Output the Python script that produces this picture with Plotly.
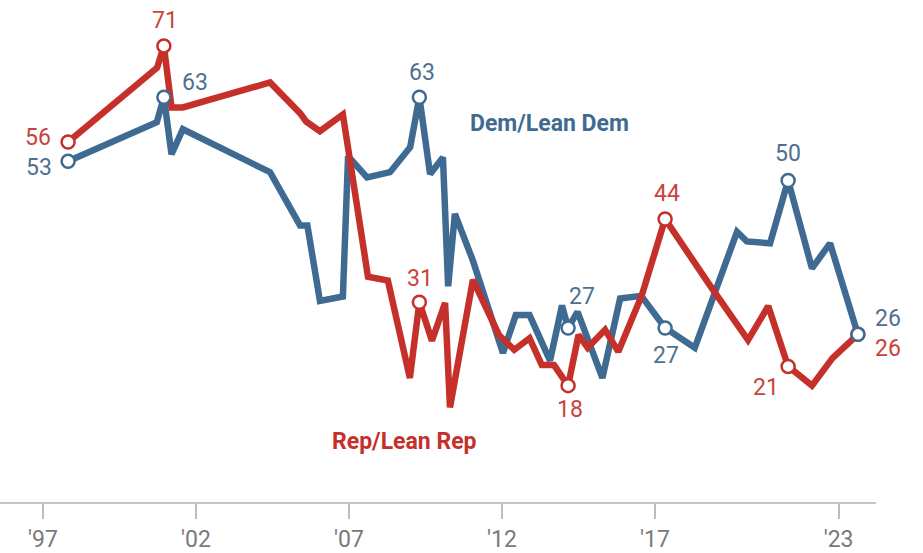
import plotly.graph_objects as go

# ---- data (decimal survey years, percent) ----
rep_years = [1997.82, 2000.73, 2000.95, 2001.2, 2001.57, 2004.42, 2005.4, 2005.6, 2006.05, 2006.8,
             2007.62, 2008.27, 2008.99, 2009.3, 2009.71, 2010.14, 2010.3, 2011.05, 2011.9, 2012.4,
             2012.9, 2013.3, 2013.7, 2014.16, 2014.5, 2014.8, 2015.37, 2015.8, 2016.57, 2017.33,
             2018.8, 2020.04, 2020.7, 2021.35, 2022.13, 2022.8, 2023.63]
rep_values = [56, 67.6, 71, 61.4, 61.4, 65.3, 60.5, 59.2, 57.7, 60.3,
              35.0, 34.4, 19.2, 31, 25.0, 30.9, 14.6, 34.5, 25.9, 23.6,
              25.4, 21.2, 21.2, 18, 25.9, 23.9, 26.7, 23.3, 32.1, 44,
              33.6, 25.1, 30.4, 21, 18.0, 22.3, 26]

dem_years = [1997.82, 2000.72, 2000.95, 2001.2, 2001.57, 2004.42, 2005.4, 2005.64, 2006.05, 2006.8,
             2006.97, 2007.59, 2008.34, 2009.0, 2009.3, 2009.65, 2010.07, 2010.24, 2010.46, 2011.05,
             2012.03, 2012.45, 2012.9, 2013.57, 2013.96, 2014.16, 2014.47, 2015.28, 2015.86, 2016.55,
             2017.33, 2018.3, 2019.68, 2020.0, 2020.76, 2021.35, 2022.13, 2022.72, 2023.63]
dem_values = [53, 59.1, 63, 54.1, 58.0, 51.3, 43.0, 43.0, 31.2, 31.9,
              53.8, 50.5, 51.3, 55.2, 63, 51.0, 53.6, 33.5, 44.8, 37.5,
              23.1, 29.0, 29.0, 21.9, 30.5, 27, 29.5, 19.2, 31.6, 32.0,
              27, 23.9, 42.0, 40.5, 40.2, 50, 36.3, 40.2, 26]

rep_label_years = [1997.82, 2000.95, 2009.3, 2014.16, 2017.33, 2021.35, 2023.63]
rep_label_values = [56, 71, 31, 18, 44, 21, 26]
dem_label_years = [1997.82, 2000.95, 2009.3, 2014.16, 2017.33, 2021.35, 2023.63]
dem_label_values = [53, 63, 63, 27, 27, 50, 26]

tick_years = [1997, 2002, 2007, 2012, 2017, 2023]
tick_labels = ["'97", "'02", "'07", "'12", "'17", "'23"]

series_names = ["Dem/Lean Dem", "Rep/Lean Rep"]

# ---- style ----
RED = "#C5312A"
BLUE = "#3F6B92"
RED_TXT = "#C8433C"
BLUE_TXT = "#4F6F8F"
FONT = "Roboto, Liberation Sans, Arial, sans-serif"

# label offsets in pixels (xshift, yshift)
rep_offsets = [(-30, 5), (1, 25), (1, 24), (2, -24), (2, 25), (-22, -21), (30, -14)]
dem_offsets = [(-29, -6), (31, 15), (3, 25), (14, 31), (1, -28), (0, 27), (30, 16)]

fig = go.Figure()

fig.add_trace(go.Scatter(x=dem_years, y=dem_values, mode="lines",
                         line=dict(color=BLUE, width=6.5), hoverinfo="skip", showlegend=False))
fig.add_trace(go.Scatter(x=rep_years, y=rep_values, mode="lines",
                         line=dict(color=RED, width=6.5), hoverinfo="skip", showlegend=False))
fig.add_trace(go.Scatter(x=rep_label_years, y=rep_label_values, mode="markers",
                         marker=dict(size=13, color="white", line=dict(color=RED, width=2.5)),
                         hoverinfo="skip", showlegend=False))
fig.add_trace(go.Scatter(x=dem_label_years, y=dem_label_values, mode="markers",
                         marker=dict(size=13, color="white", line=dict(color=BLUE, width=2.5)),
                         hoverinfo="skip", showlegend=False))

annotations = []
for xv, yv, (dx, dy) in zip(rep_label_years, rep_label_values, rep_offsets):
    annotations.append(dict(x=xv, y=yv, text=str(yv), showarrow=False, xshift=dx, yshift=dy,
                            font=dict(family=FONT, size=23, color=RED_TXT)))
for xv, yv, (dx, dy) in zip(dem_label_years, dem_label_values, dem_offsets):
    annotations.append(dict(x=xv, y=yv, text=str(yv), showarrow=False, xshift=dx, yshift=dy,
                            font=dict(family=FONT, size=23, color=BLUE_TXT)))

annotations.append(dict(x=2013.54, y=58.9, text="<b>" + series_names[0] + "</b>", showarrow=False,
                        font=dict(family=FONT, size=23, color=BLUE)))
annotations.append(dict(x=2008.8, y=9.3, text="<b>" + series_names[1] + "</b>", showarrow=False,
                        font=dict(family=FONT, size=23, color=RED)))

fig.update_layout(
    width=923, height=553,
    margin=dict(l=0, r=47, t=20, b=48),
    paper_bgcolor="white", plot_bgcolor="white",
    annotations=annotations,
    xaxis=dict(range=[1995.595, 2024.222], showgrid=False, zeroline=False,
               showline=True, linecolor="#C4C4C4", linewidth=2,
               tickmode="array", tickvals=tick_years, ticktext=tick_labels,
               ticks="outside", ticklen=15, tickwidth=1.5, tickcolor="#BDBDBD",
               tickfont=dict(family=FONT, size=23, color="#7A7A7A")),
    yaxis=dict(range=[-0.155, 75.04], visible=False, showgrid=False, zeroline=False),
)

fig.write_html("out.html", config={"displayModeBar": False},
               post_script="document.body.style.margin='0px';")
